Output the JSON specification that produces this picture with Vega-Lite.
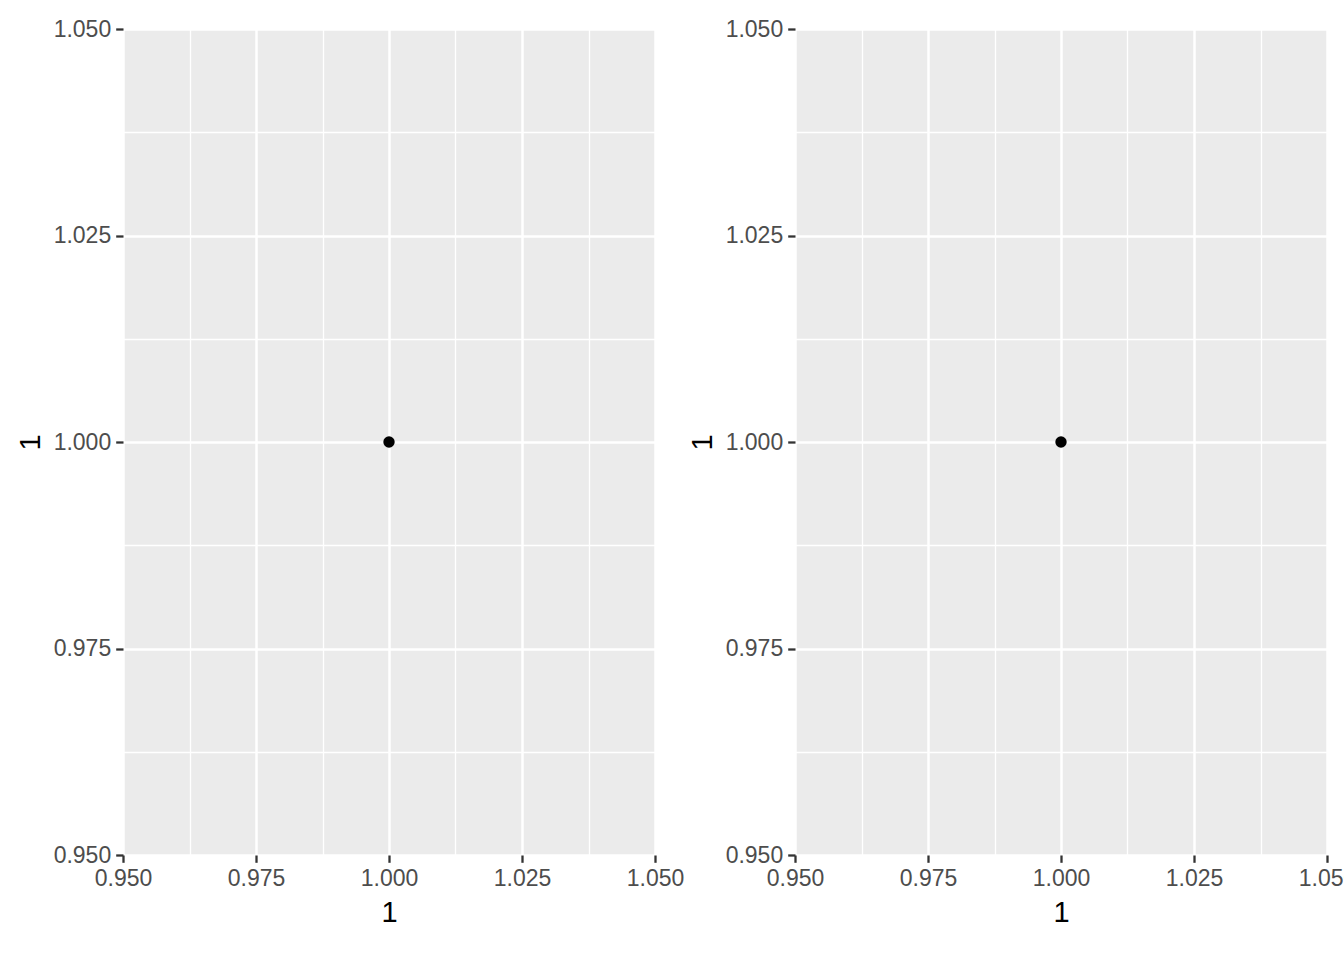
{
  "$schema": "https://vega.github.io/schema/vega-lite/v6.json",
  "padding": {"left": 16, "top": 18, "right": 0, "bottom": 0},
  "background": "white",
  "bounds": "flush",
  "spacing": 140,
  "data": {"values": [{"x": 1, "y": 1}]},
  "config": {
    "font": "Liberation Sans",
    "view": {"fill": "#EBEBEB", "stroke": null},
    "axis": {
      "domain": false,
      "grid": true,
      "gridColor": "white",
      "gridWidth": {"condition": {"test": "abs(datum.value*40 - round(datum.value*40)) < 1e-6", "value": 2.5}, "value": 1.3},
      "tickColor": "#333333",
      "tickWidth": 2.3,
      "tickSize": 7.3,
      "tickOpacity": {"condition": {"test": "abs(datum.value*40 - round(datum.value*40)) < 1e-6", "value": 1}, "value": 0},
      "labelFont": "Liberation Sans",
      "labelFontSize": 23,
      "labelColor": "#4D4D4D",
      "labelPadding": 5,
      "labelOverlap": false,
      "labelFlush": false,
      "titleFont": "Liberation Sans",
      "titleFontSize": 29,
      "titleFontWeight": "normal",
      "titleColor": "black"
    },
    "axisX": {"titlePadding": 8},
    "axisY": {"titlePadding": 8}
  },
  "hconcat": [
    {
      "width": 532,
      "height": 826,
      "mark": {"type": "circle", "color": "black", "opacity": 1, "size": 130},
      "encoding": {
        "x": {"field": "x", "type": "quantitative", "title": "1", "scale": {"domain": [0.95, 1.05], "nice": false, "zero": false},
              "axis": {"values": [0.95, 0.9625, 0.975, 0.9875, 1.0, 1.0125, 1.025, 1.0375, 1.05],
                       "labelExpr": "abs(datum.value*40 - round(datum.value*40)) < 1e-6 ? format(datum.value, '.3f') : ''"}},
        "y": {"field": "y", "type": "quantitative", "title": "1", "scale": {"domain": [0.95, 1.05], "nice": false, "zero": false},
              "axis": {"values": [0.95, 0.9625, 0.975, 0.9875, 1.0, 1.0125, 1.025, 1.0375, 1.05],
                       "labelExpr": "abs(datum.value*40 - round(datum.value*40)) < 1e-6 ? format(datum.value, '.3f') : ''"}}
      }
    },
    {
      "width": 532,
      "height": 826,
      "mark": {"type": "circle", "color": "black", "opacity": 1, "size": 130},
      "encoding": {
        "x": {"field": "x", "type": "quantitative", "title": "1", "scale": {"domain": [0.95, 1.05], "nice": false, "zero": false},
              "axis": {"values": [0.95, 0.9625, 0.975, 0.9875, 1.0, 1.0125, 1.025, 1.0375, 1.05],
                       "labelExpr": "abs(datum.value*40 - round(datum.value*40)) < 1e-6 ? format(datum.value, '.3f') : ''"}},
        "y": {"field": "y", "type": "quantitative", "title": "1", "scale": {"domain": [0.95, 1.05], "nice": false, "zero": false},
              "axis": {"values": [0.95, 0.9625, 0.975, 0.9875, 1.0, 1.0125, 1.025, 1.0375, 1.05],
                       "labelExpr": "abs(datum.value*40 - round(datum.value*40)) < 1e-6 ? format(datum.value, '.3f') : ''"}}
      }
    }
  ]
}
